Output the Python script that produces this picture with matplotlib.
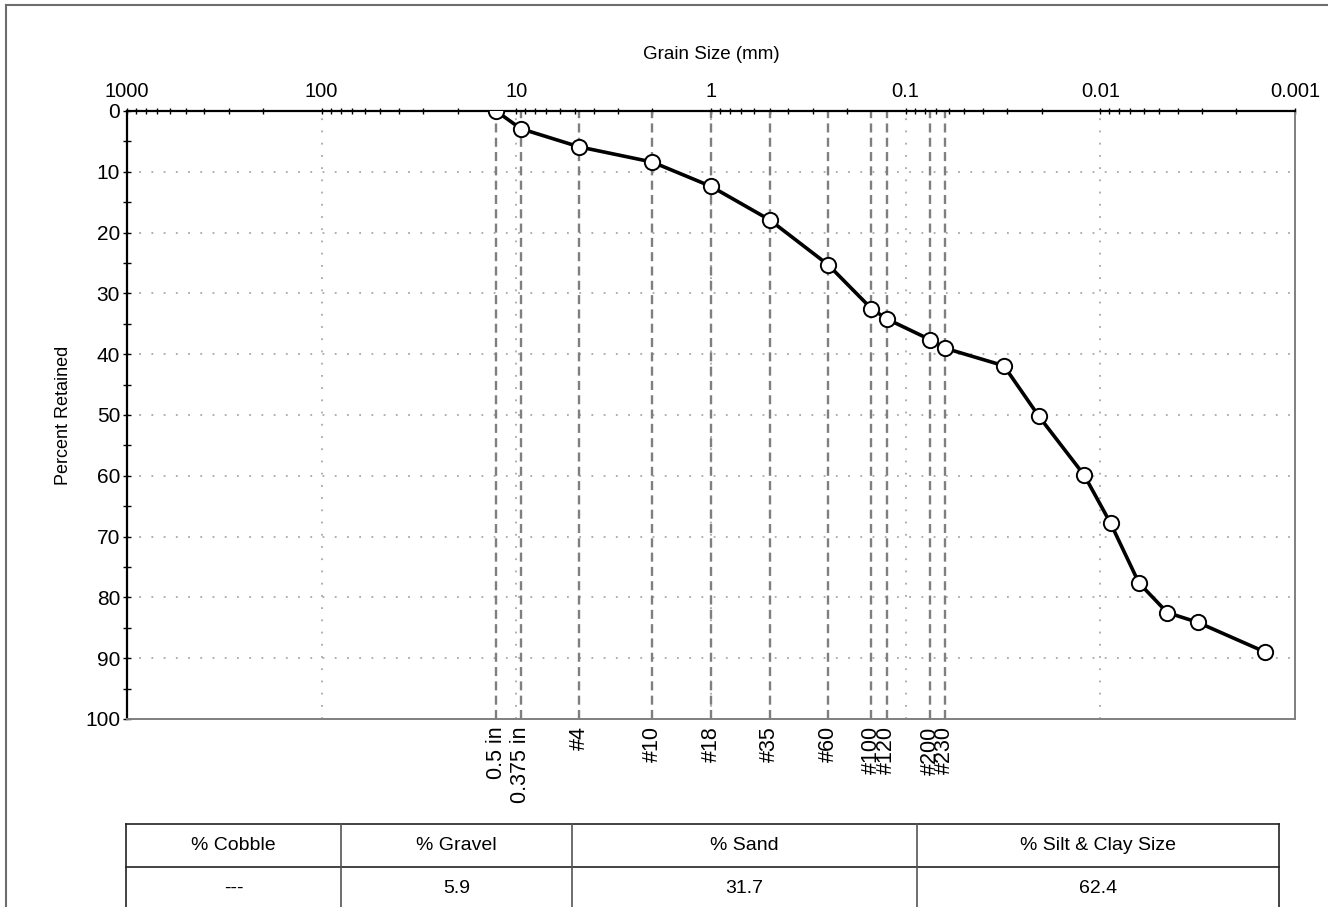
import matplotlib
matplotlib.use("Agg")
import matplotlib.pyplot as plt
from matplotlib.lines import Line2D
from matplotlib.ticker import FixedLocator, FixedFormatter
import matplotlib.transforms as mtransforms

plt.rcParams['font.family'] = ['Liberation Sans', 'DejaVu Sans']
plt.rcParams['lines.scale_dashes'] = False

# ---------------- data ----------------
grain_size_mm = [12.7, 9.5, 4.75, 2.0, 1.0, 0.5, 0.25, 0.15, 0.125, 0.075, 0.063,
                 0.0313, 0.0207, 0.0121, 0.00886, 0.00634, 0.00453, 0.00316, 0.00142]
percent_retained = [0.0, 2.9, 5.9, 8.4, 12.4, 17.9, 25.3, 32.5, 34.2, 37.6, 39.0,
                    41.9, 50.2, 59.9, 67.8, 77.6, 82.5, 84.1, 89.0]

sieve_labels = ['0.5 in', '0.375 in', '#4', '#10', '#18', '#35', '#60', '#100', '#120', '#200', '#230']
sieve_sizes_mm = [12.7, 9.5, 4.75, 2.0, 1.0, 0.5, 0.25, 0.15, 0.125, 0.075, 0.063]

x_tick_values = [1000, 100, 10, 1, 0.1, 0.01, 0.001]
x_tick_labels = ['1000', '100', '10', '1', '0.1', '0.01', '0.001']
y_ticks = [0, 10, 20, 30, 40, 50, 60, 70, 80, 90, 100]

table_headers = ['% Cobble', '% Gravel', '% Sand', '% Silt & Clay Size']
table_values = ['---', '5.9', '31.7', '62.4']

# ---------------- figure ----------------
W, H = 1328, 907
fig = plt.figure(figsize=(W / 100, H / 100), dpi=100)
fig.patch.set_facecolor('white')

def fx(px):
    return px / W

def fy(py):
    return 1 - py / H

ax_l, ax_r, ax_t, ax_b = 127, 1295, 111, 719
ax = fig.add_axes([fx(ax_l), fy(ax_b), fx(ax_r - ax_l), (ax_b - ax_t) / H])

ax.set_xscale('log')
ax.set_xlim(1000, 0.001)
ax.set_ylim(100, 0)

# grid (dotted)
grid_kw = dict(color='#a8a8a8', lw=1.3, linestyle=(0, (1.3, 7.5)), zorder=1)
for v in x_tick_values[1:-1]:
    ax.axvline(v, **grid_kw)
for v in y_ticks[1:-1]:
    ax.axhline(v, **grid_kw)

# sieve lines
for s in sieve_sizes_mm:
    ax.axvline(s, color='#7f7f7f', lw=1.7, linestyle=(0, (6.5, 3.8)), zorder=2)

# data curve
ax.plot(grain_size_mm, percent_retained, color='black', lw=2.6, zorder=4,
        marker='o', markersize=11, markerfacecolor='white',
        markeredgecolor='black', markeredgewidth=1.4)

# axes styling
ax.xaxis.tick_top()
ax.xaxis.set_label_position('top')
ax.xaxis.set_major_locator(FixedLocator(x_tick_values))
ax.xaxis.set_major_formatter(FixedFormatter(x_tick_labels))
ax.tick_params(axis='x', which='major', direction='inout', length=5, width=1,
               labelsize=14.5, pad=5, top=True, bottom=False)
ax.tick_params(axis='x', which='minor', direction='inout', length=4.5, width=1,
               top=True, bottom=False)
ax.set_xlabel('Grain Size (mm)', fontsize=13.5, labelpad=16)

ax.set_yticks(y_ticks)
ax.set_yticks([5, 15, 25, 35, 45, 55, 65, 75, 85, 95], minor=True)
ax.tick_params(axis='y', which='major', direction='inout', length=6, width=1,
               labelsize=15, pad=2, left=True, right=False)
ax.tick_params(axis='y', which='minor', direction='inout', length=6, width=1,
               left=True, right=False)
ax.set_ylabel('Percent Retained', fontsize=13, labelpad=9)

for side in ['top', 'left']:
    ax.spines[side].set_color('black')
    ax.spines[side].set_linewidth(1.6)
for side in ['right', 'bottom']:
    ax.spines[side].set_color('#7f7f7f')
    ax.spines[side].set_linewidth(1.4)

# sieve labels below the axes
trans = mtransforms.blended_transform_factory(ax.transData, ax.transAxes)
for s, lab in zip(sieve_sizes_mm, sieve_labels):
    ax.text(s, -0.012, lab, transform=trans, rotation=90, ha='center', va='top',
            fontsize=15.5, color='black', clip_on=False)

# ---------------- table ----------------
col_x = [126, 341, 572, 917, 1279]
row_y = [824, 867, 910]
tbl_color = '#222222'
for yv in row_y:
    fig.add_artist(Line2D([fx(col_x[0]), fx(col_x[-1])], [fy(yv), fy(yv)],
                          color=tbl_color, lw=1.2))
for xv in col_x:
    fig.add_artist(Line2D([fx(xv), fx(xv)], [fy(row_y[0]), fy(row_y[-1])],
                          color='#555555' if xv not in (col_x[0], col_x[-1]) else tbl_color,
                          lw=1.2))
for i in range(4):
    cx = (col_x[i] + col_x[i + 1]) / 2
    fig.text(fx(cx), fy((row_y[0] + row_y[1]) / 2), table_headers[i],
             ha='center', va='center', fontsize=14)
    fig.text(fx(cx), fy((row_y[1] + row_y[2]) / 2), table_values[i],
             ha='center', va='center', fontsize=14)

# outer frame (partially visible)
frame_c = '#6e6e6e'
fig.add_artist(Line2D([fx(6), fx(6)], [fy(5), fy(920)], color=frame_c, lw=1.5))
fig.add_artist(Line2D([fx(6), fx(1340)], [fy(5), fy(5)], color=frame_c, lw=1.5))

fig.savefig('out.png', dpi=100, facecolor='white')
